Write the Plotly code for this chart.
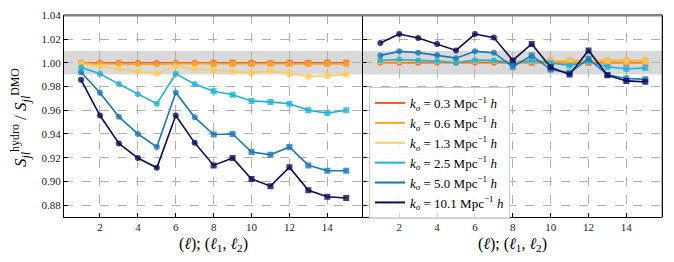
import plotly.graph_objects as go

# ---------------- data ----------------
x_idx = list(range(1, 16))
k_labels = ["0.3", "0.6", "1.3", "2.5", "5.0", "10.1"]

left_k03 = [1.000, 1.000, 1.000, 1.000, 0.9998, 1.000, 1.000, 1.000, 1.000, 0.9998, 0.9998, 1.000, 1.000, 1.000, 1.000]
left_k06 = [0.9995, 0.9993, 0.9992, 0.999, 0.9985, 0.9993, 0.9992, 0.999, 0.999, 0.9988, 0.9992, 0.999, 0.999, 0.999, 0.999]
left_k13 = [0.9995, 0.997, 0.9946, 0.9924, 0.9907, 0.997, 0.995, 0.9937, 0.9926, 0.9915, 0.9932, 0.9907, 0.9884, 0.989, 0.990]
left_k25 = [0.996, 0.9907, 0.982, 0.9734, 0.9655, 0.9907, 0.982, 0.976, 0.9731, 0.9678, 0.967, 0.9655, 0.960, 0.9576, 0.960]
left_k50 = [0.992, 0.9748, 0.9544, 0.940, 0.929, 0.975, 0.954, 0.9395, 0.940, 0.9248, 0.9225, 0.929, 0.9135, 0.909, 0.909]
left_k101 = [0.9856, 0.9555, 0.932, 0.9197, 0.9115, 0.9555, 0.9325, 0.9135, 0.9197, 0.902, 0.896, 0.912, 0.8925, 0.887, 0.886]

right_k03 = [1.000, 1.000, 1.000, 1.000, 1.000, 1.000, 1.000, 1.000, 1.000, 1.000, 1.000, 1.000, 1.000, 1.000, 1.000]
right_k06 = [1.001, 1.0012, 1.0012, 1.001, 1.001, 1.0012, 1.0012, 1.001, 1.0015, 1.0018, 1.0018, 1.0018, 1.0018, 1.0018, 1.0018]
right_k13 = [1.0012, 1.0015, 1.0015, 1.0012, 1.001, 1.0015, 1.0015, 1.0008, 1.0012, 1.001, 1.0008, 1.0012, 1.001, 1.001, 1.001]
right_k25 = [1.002, 1.0028, 1.002, 1.0014, 1.000, 1.0022, 1.002, 0.9995, 1.002, 0.9997, 0.9977, 1.001, 0.9966, 0.995, 0.9955]
right_k50 = [1.0062, 1.0096, 1.0085, 1.0064, 1.0039, 1.0096, 1.0085, 0.9966, 1.0062, 0.9943, 0.9915, 1.0034, 0.9898, 0.9867, 0.986]
right_k101 = [1.0166, 1.0242, 1.0208, 1.0158, 1.0104, 1.0242, 1.0212, 1.002, 1.0158, 0.9963, 0.990, 1.0104, 0.9895, 0.9847, 0.9839]

n_single = 7  # first bins are single-l (circles), rest are pairs (squares)

colors = ["#ff5a14", "#ffa41f", "#ffcb55", "#1bb3da", "#1878b8", "#0b0b5c"]

left_series = [left_k03, left_k06, left_k13, left_k25, left_k50, left_k101]
right_series = [right_k03, right_k06, right_k13, right_k25, right_k50, right_k101]

# ---------------- layout geometry ----------------
W, H = 674, 262
xl0, xl1, xr1 = 64 / W, 363.3 / W, 662.3 / W
y0, y1 = 1 - 217 / H, 1 - 15.3 / H
xr = [0.1, 15.9]
yr = [0.87, 1.04]

symbols = ["circle"] * n_single + ["square"] * (len(x_idx) - n_single)

fig = go.Figure()
serif = "Liberation Serif, Times New Roman, serif"

for panel, series in (("x", left_series), ("x2", right_series)):
    for k, vals, c in zip(k_labels, series, colors):
        fig.add_trace(go.Scatter(
            x=x_idx, y=vals, mode="lines+markers",
            xaxis=panel, yaxis="y" if panel == "x" else "y2",
            line=dict(color=c, width=1.6),
            marker=dict(symbol=symbols, size=6, color=c, opacity=0.8),
            showlegend=False, hoverinfo="skip",
        ))

# legend-only entries (lines only)
for k, c in zip(k_labels, colors):
    fig.add_trace(go.Scatter(
        x=[None], y=[None], mode="lines", xaxis="x2", yaxis="y2",
        line=dict(color=c, width=2),
        name=f"<i>k<sub>σ</sub></i> = {k} Mpc<sup>−1</sup> <i>h</i>",
    ))

axis_common = dict(
    showgrid=True, gridcolor="#b0b0b0", griddash="dash", gridwidth=0.8,
    ticks="inside", ticklen=4, tickcolor="black", zeroline=False, automargin=False,
    tickfont=dict(family=serif, size=11, color="#222"),
)

fig.update_layout(
    width=W, height=H,
    margin=dict(l=0, r=0, t=0, b=0, autoexpand=False),
    paper_bgcolor="white", plot_bgcolor="white",
    xaxis=dict(domain=[xl0, xl1], range=xr, tickvals=[2, 4, 6, 8, 10, 12, 14],
               showline=True, linecolor="black", linewidth=1.2, anchor="y",
               **axis_common),
    xaxis2=dict(domain=[xl1, xr1], range=xr, tickvals=[2, 4, 6, 8, 10, 12, 14],
                showline=True, linecolor="black", linewidth=1.2, anchor="y2",
                **axis_common),
    yaxis=dict(domain=[y0, y1], range=yr, dtick=0.02, tickformat=".2f",
               showline=True, linecolor="black", linewidth=1.2, anchor="x",
               **axis_common),
    yaxis2=dict(domain=[y0, y1], range=yr, dtick=0.02, showticklabels=False,
                showline=True, linecolor="black", linewidth=1.2, anchor="x2",
                **axis_common),
    legend=dict(
        x=369 / W, y=1 - 87 / H, xanchor="left", yanchor="top",
        bgcolor="rgba(255,255,255,0.85)", bordercolor="#cccccc", borderwidth=1,
        font=dict(family=serif, size=13, color="black"),
        tracegroupgap=0, itemwidth=30,
    ),
    showlegend=True,
)

# shaded +-1% band in both panels
for xa, ya in (("x", "y"), ("x2", "y2")):
    fig.add_shape(type="rect", xref=f"{xa} domain", yref=ya, x0=0, x1=1,
                  y0=0.99, y1=1.01, fillcolor="#d9d9d9", line_width=0, layer="below")

# top spine (gray) and right spine (black)
fig.add_shape(type="line", xref="paper", yref="paper", x0=xl0, x1=xr1, y0=y1, y1=y1,
              line=dict(color="#808080", width=2.5))
fig.add_shape(type="line", xref="paper", yref="paper", x0=xr1, x1=xr1, y0=y0, y1=y1,
              line=dict(color="black", width=1.2))

# axis titles
xtitle = "(<i>ℓ</i>); (<i>ℓ</i><sub>1</sub>, <i>ℓ</i><sub>2</sub>)"
for xc in ((xl0 + xl1) / 2, (xl1 + xr1) / 2):
    fig.add_annotation(xref="paper", yref="paper", x=xc, y=1 - 244 / H,
                       xanchor="center", yanchor="middle",
                       text=xtitle, showarrow=False,
                       font=dict(family=serif, size=16, color="black"))
fig.add_annotation(xref="paper", yref="paper", x=20 / W, y=1 - 118 / H, textangle=-90,
                   xanchor="center", yanchor="middle",
                   text="<i>S</i><sub><i>jl</i></sub><sup>hydro</sup> / <i>S</i><sub><i>jl</i></sub><sup>DMO</sup>",
                   showarrow=False, font=dict(family=serif, size=17, color="black"))

fig.write_html("out.html", config={"displayModeBar": False},
               post_script="document.body.style.margin='0';document.body.style.padding='0';")
